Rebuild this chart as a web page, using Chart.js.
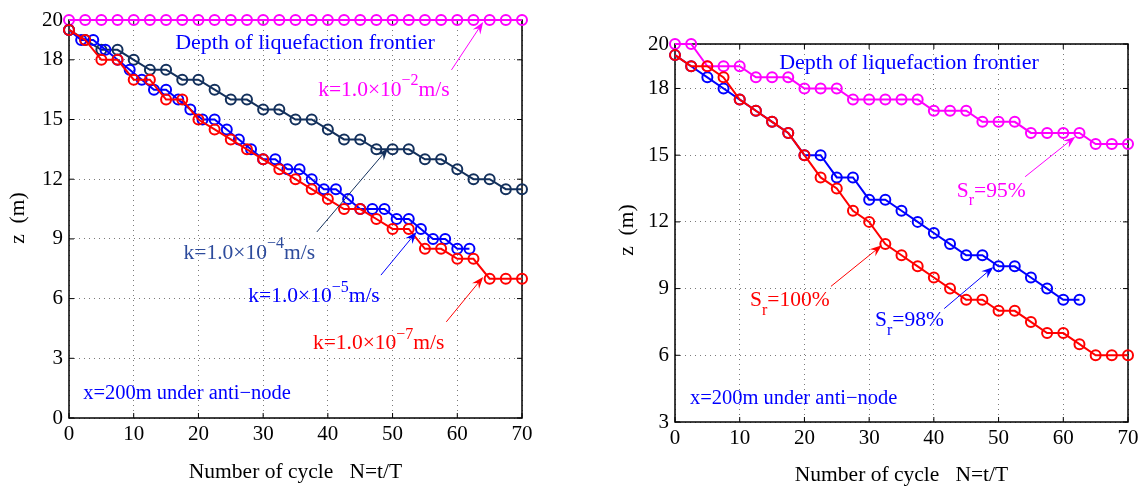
<!DOCTYPE html>
<html>
<head>
<meta charset="utf-8">
<script src="https://cdn.jsdelivr.net/npm/chart.js@4.4.0/dist/chart.umd.min.js"></script>
<style>
    body { margin: 0; background: #fff; width: 1147px; height: 488px; position: relative; overflow: hidden; }
    canvas { position: absolute; top: 0; }
    #leftChart { left: 0; }
    #rightChart { left: 573px; }
</style>
</head>
<body>
<canvas id="leftChart" width="573" height="488"></canvas>
<canvas id="rightChart" width="574" height="488"></canvas>
<script>
// Cycles N (x values)
const cycles = [0, 2.5, 5, 7.5, 10, 12.5, 15, 17.5, 20, 22.5, 25, 27.5, 30, 32.5, 35, 37.5,
    40, 42.5, 45, 47.5, 50, 52.5, 55, 57.5, 60, 62.5, 65, 67.5, 70];
const cyclesK5 = [0, 1.88, 3.75, 5.63, 7.5, 9.38, 11.25, 13.13, 15, 16.88, 18.75, 20.63, 22.5,
    24.38, 26.25, 28.13, 30, 31.88, 33.75, 35.63, 37.5, 39.38, 41.25, 43.13, 45, 46.88, 48.75,
    50.63, 52.5, 54.38, 56.25, 58.13, 60, 61.88];

// Left panel: depth z (m) for each permeability k
const zK2 = [20, 20, 20, 20, 20, 20, 20, 20, 20, 20, 20, 20, 20, 20, 20, 20,
    20, 20, 20, 20, 20, 20, 20, 20, 20, 20, 20, 20, 20];
const zK4 = [19.5, 19, 18.5, 18.5, 18, 17.5, 17.5, 17, 17, 16.5, 16, 16, 15.5, 15.5, 15, 15,
    14.5, 14, 14, 13.5, 13.5, 13.5, 13, 13, 12.5, 12, 12, 11.5, 11.5];
const zK5 = [19.5, 19, 19, 18.5, 18, 17.5, 17, 16.5, 16.5, 16, 15.5, 15, 15, 14.5, 14, 13.5,
    13, 13, 12.5, 12.5, 12, 11.5, 11.5, 11, 10.5, 10.5, 10.5, 10, 10, 9.5, 9, 9, 8.5, 8.5];
const zK7 = [19.5, 19, 18, 18, 17, 17, 16, 16, 15, 14.5, 14, 13.5, 13, 12.5, 12, 11.5,
    11, 10.5, 10.5, 10, 9.5, 9.5, 8.5, 8.5, 8, 8, 7, 7, 7];

// Right panel: depth z (m) for each saturation Sr
const zSr95 = [20, 20, 19, 19, 19, 18.5, 18.5, 18.5, 18, 18, 18, 17.5, 17.5, 17.5, 17.5, 17.5,
    17, 17, 17, 16.5, 16.5, 16.5, 16, 16, 16, 16, 15.5, 15.5, 15.5];
const zSr98 = [19.5, 19, 18.5, 18, 17.5, 17, 16.5, 16, 15, 15, 14, 14, 13, 13, 12.5, 12,
    11.5, 11, 10.5, 10.5, 10, 10, 9.5, 9, 8.5, 8.5];
const zSr100 = [19.5, 19, 19, 18.5, 17.5, 17, 16.5, 16, 15, 14, 13.5, 12.5, 12, 11, 10.5, 10,
    9.5, 9, 8.5, 8.5, 8, 8, 7.5, 7, 7, 6.5, 6, 6, 6];

// Tick labels
const xTicks = [0, 10, 20, 30, 40, 50, 60, 70];
const leftYTicks = [0, 3, 6, 9, 12, 15, 18, 20];
const rightYTicks = [3, 6, 9, 12, 15, 18, 20];

const SERIF = "'Liberation Serif', 'Times New Roman', serif";
Chart.defaults.font.family = SERIF;
Chart.defaults.font.size = 20;
Chart.defaults.color = '#000';

const MAGENTA = '#ff00ff';
const RED = '#ff0000';
const BLUE = '#0000ff';
const NAVY = '#13305c';

function pairs(xs, ys) {
    return ys.map((y, i) => ({ x: xs[i], y: y }));
}

function series(xs, ys, color) {
    return {
        data: pairs(xs, ys),
        borderColor: color,
        borderWidth: 2,
        pointRadius: 5,
        pointBorderWidth: 2,
        pointBorderColor: color,
        pointBackgroundColor: 'rgba(0,0,0,0)',
        pointStyle: 'circle',
        clip: false
    };
}

function drawArrow(ctx, x1, y1, x2, y2, color) {
    const ang = Math.atan2(y2 - y1, x2 - x1);
    const len = 12, half = 4.5;
    ctx.save();
    ctx.strokeStyle = color;
    ctx.fillStyle = color;
    ctx.lineWidth = 1;
    ctx.beginPath();
    ctx.moveTo(x1, y1);
    ctx.lineTo(x2 - Math.cos(ang) * len * 0.6, y2 - Math.sin(ang) * len * 0.6);
    ctx.stroke();
    ctx.translate(x2, y2);
    ctx.rotate(ang);
    ctx.beginPath();
    ctx.moveTo(0, 0);
    ctx.lineTo(-len, -half);
    ctx.lineTo(-len * 0.65, 0);
    ctx.lineTo(-len, half);
    ctx.closePath();
    ctx.fill();
    ctx.restore();
}

// text made of parts: normal, superscript or subscript
function drawRichText(ctx, parts, x, y, color, size) {
    ctx.save();
    ctx.fillStyle = color;
    ctx.textBaseline = 'middle';
    ctx.textAlign = 'left';
    let cx = x;
    parts.forEach(p => {
        const small = p.sup || p.sub;
        ctx.font = (small ? Math.round(size * 0.75) : size) + 'px ' + SERIF;
        const dy = p.sup ? -9 : (p.sub ? 10 : 0);
        ctx.fillText(p.t, cx, y + dy);
        cx += ctx.measureText(p.t).width;
    });
    ctx.restore();
}

// box, inward ticks, titles, labels and arrows
const decorPlugin = {
    id: 'decor',
    beforeDatasetsDraw(chart) {
        const { ctx, chartArea: a } = chart;
        ctx.save();
        ctx.strokeStyle = '#000';
        ctx.lineWidth = 1.5;
        ctx.strokeRect(a.left, a.top, a.right - a.left, a.bottom - a.top);
        ctx.lineWidth = 1;
        const xs = chart.scales.x, ys = chart.scales.y;
        ctx.beginPath();
        xs.ticks.forEach(t => {
            const px = xs.getPixelForValue(t.value);
            ctx.moveTo(px, a.bottom); ctx.lineTo(px, a.bottom - 5);
            ctx.moveTo(px, a.top); ctx.lineTo(px, a.top + 5);
        });
        ys.ticks.forEach(t => {
            const py = ys.getPixelForValue(t.value);
            ctx.moveTo(a.left, py); ctx.lineTo(a.left + 5, py);
            ctx.moveTo(a.right, py); ctx.lineTo(a.right - 5, py);
        });
        ctx.stroke();
        ctx.restore();
    },
    afterDraw(chart, args, opts) {
        const { ctx, chartArea: a } = chart;
        const xs = chart.scales.x, ys = chart.scales.y;

        ctx.save();
        ctx.fillStyle = '#000';
        ctx.font = '21.5px ' + SERIF;
        ctx.textAlign = 'center';
        ctx.textBaseline = 'middle';
        ctx.fillText('Number of cycle   N=t/T', (a.left + a.right) / 2 + opts.xTitleShift, a.bottom + opts.xTitleGap);
        ctx.translate(a.left - opts.yTitleGap, (a.top + a.bottom) / 2 + opts.yTitleShift);
        ctx.rotate(-Math.PI / 2);
        ctx.fillText('z  (m)', 0, 0);
        ctx.restore();

        opts.arrows.forEach(ar => {
            drawArrow(ctx, xs.getPixelForValue(ar.x1), ys.getPixelForValue(ar.z1),
                xs.getPixelForValue(ar.x2), ys.getPixelForValue(ar.z2), ar.color);
        });
        opts.labels.forEach(lb => {
            drawRichText(ctx, lb.parts, xs.getPixelForValue(lb.x), ys.getPixelForValue(lb.z),
                lb.color, lb.size || 21.5);
        });
    }
};

function makeOptions(yMin, yTicks, yWidth, xHeight, padding, decor) {
    return {
        responsive: false,
        animation: false,
        layout: { padding: padding },
        plugins: { legend: { display: false }, tooltip: { enabled: false }, decor: decor },
        scales: {
            x: {
                type: 'linear', min: 0, max: 70,
                afterBuildTicks: s => { s.ticks = xTicks.map(v => ({ value: v })); },
                afterFit: s => { s.height = xHeight; },
                ticks: { padding: 4, maxRotation: 0, font: { size: 21 } },
                grid: { color: '#7a7a7a', drawTicks: false },
                border: { display: false, dash: [1, 4] }
            },
            y: {
                type: 'linear', min: yMin, max: 20,
                afterBuildTicks: s => { s.ticks = yTicks.map(v => ({ value: v })); },
                afterFit: s => { s.width = yWidth; },
                ticks: { padding: 6, font: { size: 21 } },
                grid: { color: '#7a7a7a', drawTicks: false },
                border: { display: false, dash: [1, 4] }
            }
        }
    };
}

const txt = t => ({ t: t });
const sup = t => ({ t: t, sup: true });
const sub = t => ({ t: t, sub: true });

new Chart(document.getElementById('leftChart'), {
    type: 'line',
    data: {
        datasets: [
            series(cycles, zK7, RED),
            series(cyclesK5, zK5, BLUE),
            series(cycles, zK4, NAVY),
            series(cycles, zK2, MAGENTA)
        ]
    },
    plugins: [decorPlugin],
    options: makeOptions(0, leftYTicks, 69, 70, { left: 0, top: 20, right: 51, bottom: 0 }, {
        xTitleGap: 54, xTitleShift: 0, yTitleGap: 51, yTitleShift: -1,
        arrows: [
            { x1: 59.1, z1: 17.49, x2: 64.0, z2: 19.9, color: MAGENTA },
            { x1: 38.3, z1: 9.35, x2: 49.3, z2: 13.55, color: NAVY },
            { x1: 48.2, z1: 7.18, x2: 53.7, z2: 9.35, color: BLUE },
            { x1: 58.3, z1: 4.83, x2: 64.0, z2: 7.09, color: RED }
        ],
        labels: [
            { parts: [txt('Depth of liquefaction frontier')], x: 16.4, z: 18.85, color: BLUE, size: 22 },
            { parts: [txt('k=1.0×10'), sup('−2'), txt('m/s')], x: 38.5, z: 16.48, color: MAGENTA },
            { parts: [txt('k=1.0×10'), sup('−4'), txt('m/s')], x: 17.7, z: 8.28, color: '#2d4b9c' },
            { parts: [txt('k=1.0×10'), sup('−5'), txt('m/s')], x: 27.7, z: 6.09, color: BLUE },
            { parts: [txt('k=1.0×10'), sup('−7'), txt('m/s')], x: 37.7, z: 3.74, color: RED },
            { parts: [txt('x=200m under anti−node')], x: 2.2, z: 1.23, color: BLUE, size: 20.5 }
        ]
    })
});

new Chart(document.getElementById('rightChart'), {
    type: 'line',
    data: {
        datasets: [
            series(cycles, zSr100, RED),
            series(cycles, zSr98, BLUE),
            series(cycles, zSr95, MAGENTA)
        ]
    },
    plugins: [decorPlugin],
    options: makeOptions(3, rightYTicks, 102, 66, { left: 0, top: 44, right: 19, bottom: 0 }, {
        xTitleGap: 53, xTitleShift: 0, yTitleGap: 48, yTitleShift: -3,
        arrows: [
            { x1: 54.1, z1: 14.03, x2: 61.85, z2: 15.83, color: MAGENTA },
            { x1: 24.1, z1: 9.1, x2: 31.96, z2: 10.95, color: RED },
            { x1: 41.6, z1: 8.1, x2: 49.2, z2: 9.97, color: BLUE }
        ],
        labels: [
            { parts: [txt('Depth of liquefaction frontier')], x: 16.1, z: 19.14, color: BLUE, size: 22 },
            { parts: [txt('S'), sub('r'), txt('=95%')], x: 43.55, z: 13.39, color: MAGENTA },
            { parts: [txt('S'), sub('r'), txt('=100%')], x: 11.6, z: 8.47, color: RED },
            { parts: [txt('S'), sub('r'), txt('=98%')], x: 30.9, z: 7.57, color: BLUE },
            { parts: [txt('x=200m under anti−node')], x: 2.3, z: 4.04, color: BLUE, size: 20.5 }
        ]
    })
});
</script>
</body>
</html>
